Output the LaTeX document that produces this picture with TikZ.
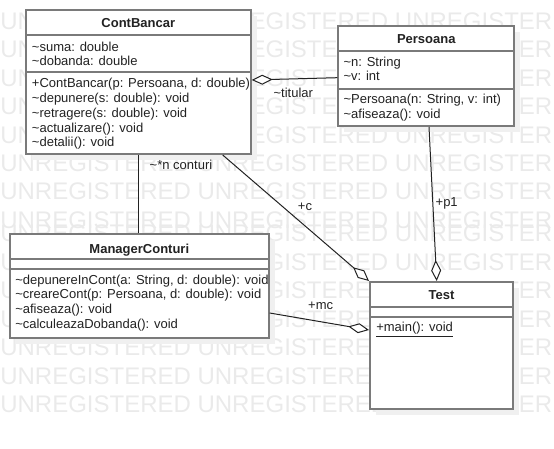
\documentclass[tikz,border=0pt]{standalone}
\usepackage{fontspec}
\setmainfont{Liberation Sans}
\usepackage{tikz}
\usetikzlibrary{arrows.meta, fit, shadows}
\definecolor{boxgray}{HTML}{7A7A7A}
\definecolor{txtgray}{HTML}{222222}
\definecolor{wmgray}{HTML}{EAEAEA}
\newcommand{\tld}{\textasciitilde}
\tikzstyle{cls}=[draw=boxgray, line width=1.5pt, fill=white, inner sep=0pt, drop shadow={shadow xshift=4.5pt, shadow yshift=-4.5pt, fill=black!6, opacity=1}]
\tikzstyle{sep}=[draw=boxgray, line width=1.5pt]
\tikzstyle{ttl}=[inner sep=0pt, anchor=base, font=\fontsize{9.75}{11}\selectfont\bfseries, text=txtgray]
\tikzstyle{mbr}=[inner sep=0pt, anchor=base west, font=\fontsize{9.75}{11}\selectfont, text=txtgray]
\tikzstyle{rl}=[inner sep=0pt, font=\fontsize{9.75}{11}\selectfont, text=txtgray]
\tikzstyle{wm}=[inner sep=0pt, anchor=base west, font=\fontsize{18}{18}\selectfont, text=wmgray]
\tikzstyle{assoc}=[line width=0.75pt, draw=txtgray]
\tikzstyle{agg}=[assoc, -{Diamond[open, fill=white, length=15.75pt, width=7.5pt]}]

\begin{document}
\begin{tikzpicture}[x=0.75pt, y=-0.75pt]
\useasboundingbox (0,0) rectangle (554,449);
% the watermark rows
\foreach \y [count=\i] in {29.6, 58, 86.4, 114.8, 143.2, 171.6, 200, 228.4, 241.6, 270.1, 298.6, 327.1, 355.6, 384.1, 412.6}
  \node[wm] (wm\i) at (0,\y) {UNREGISTERED UNREGISTERED UNREGISTERED};
% ContBancar
\node[cls, fit={(26,10) (250.7,154)}] (cb) {};
\draw[sep] (26,34.7) -- (250.7,34.7);
\draw[sep] (26,72.3) -- (250.7,72.3);
\node[ttl] (cb-t) at (138.3,28) {ContBancar};
\node[mbr] (cb-a1) at (31.7,51.5) {\tld suma: double};
\node[mbr] (cb-a2) at (31.7,66) {\tld dobanda: double};
\node[mbr] (cb-m1) at (31.7,88) {+ContBancar(p: Persoana, d: double)};
\node[mbr] (cb-m2) at (31.7,102.7) {\tld depunere(s: double): void};
\node[mbr] (cb-m3) at (31.7,117.4) {\tld retragere(s: double): void};
\node[mbr] (cb-m4) at (31.7,132.1) {\tld actualizare(): void};
\node[mbr] (cb-m5) at (31.7,146.8) {\tld detalii(): void};
% Persoana
\node[cls, fit={(338.3,26) (514.3,126)}] (ps) {};
\draw[sep] (338.3,51) -- (514.3,51);
\draw[sep] (338.3,89) -- (514.3,89);
\node[ttl] (ps-t) at (426.3,43.3) {Persoana};
\node[mbr] (ps-a1) at (343.3,66.5) {\tld n: String};
\node[mbr] (ps-a2) at (343.3,81) {\tld v: int};
\node[mbr] (ps-m1) at (343.3,103.5) {\tld Persoana(n: String, v: int)};
\node[mbr] (ps-m2) at (343.3,118.3) {\tld afiseaza(): void};
% ManagerConturi
\node[cls, fit={(10,234) (268.7,337.7)}] (mg) {};
\draw[sep] (10,259) -- (268.7,259);
\draw[sep] (10,269) -- (268.7,269);
\node[ttl] (mg-t) at (139.3,253.3) {ManagerConturi};
\node[mbr] (mg-m1) at (15,284.3) {\tld depunereInCont(a: String, d: double): void};
\node[mbr] (mg-m2) at (15,299) {\tld creareCont(p: Persoana, d: double): void};
\node[mbr] (mg-m3) at (15,313.7) {\tld afiseaza(): void};
\node[mbr] (mg-m4) at (15,328.3) {\tld calculeazaDobanda(): void};
% Test
\node[cls, fit={(370,282) (513,408.7)}] (ts) {};
\draw[sep] (370,307) -- (513,307);
\draw[sep] (370,317) -- (513,317);
\node[ttl] (ts-t) at (441.5,299.3) {Test};
\node[mbr] (ts-m1) at (376,331.7) {\underline{+main(): void}};
% the associations
\draw[agg] (ps.west |- 0,77.7) -- (cb.east |- 0,80);
\draw[assoc] (cb.south) -- (cb.south |- mg.north);
\draw[agg] (cb.south -| 222.7,0) -- (ts.north west);
\draw[agg] (ps.south -| 429,0) -- (ts.north -| 436.7,0);
\draw[agg] (mg.east |- 0,313) -- (ts.west |- 0,330);
% the role names
\node[rl] (r-tit) at (293.3,93.3) {\tld titular};
\node[rl] (r-cnt) at (181,165) {\tld *n conturi};
\node[rl] (r-c) at (305,206.7) {+c};
\node[rl] (r-p1) at (446.7,203.3) {+p1};
\node[rl] (r-mc) at (320.7,306) {+mc};
\end{tikzpicture}
\end{document}
